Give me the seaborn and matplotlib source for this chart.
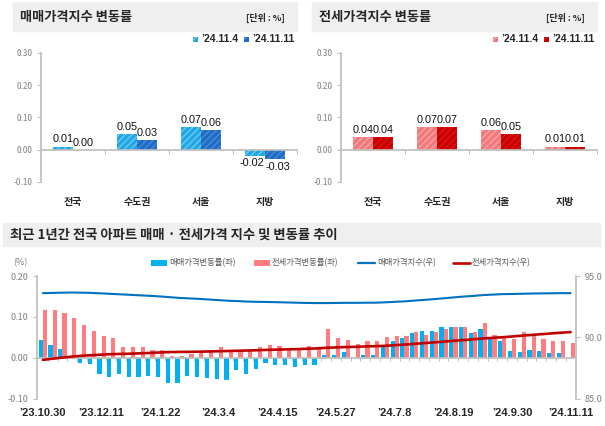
import matplotlib
matplotlib.use("Agg")
import matplotlib.pyplot as plt
import seaborn as sns
import pandas as pd
from matplotlib.patches import Rectangle
from matplotlib.lines import Line2D
from matplotlib.ticker import FormatStrFormatter

# --- data -------------------------------------------------------------
regions = ["전국", "수도권", "서울", "지방"]
periods = ["’24.11.4", "’24.11.11"]
sale_prev = [0.01, 0.05, 0.07, -0.02]
sale_last = [0.00, 0.03, 0.06, -0.03]
jeonse_prev = [0.04, 0.07, 0.06, 0.01]
jeonse_last = [0.04, 0.07, 0.05, 0.01]

week_labels = ["’23.10.30", "’23.12.11", "’24.1.22", "’24.3.4", "’24.4.15",
               "’24.5.27", "’24.7.8", "’24.8.19", "’24.9.30", "’24.11.11"]

# weekly change rates (%), 2023-10-30 .. 2024-11-11
sale_rate = [0.043, 0.030, 0.021, 0.005, -0.013, -0.015, -0.040, -0.047, -0.040, -0.047,
             -0.047, -0.044, -0.048, -0.063, -0.063, -0.045, -0.047, -0.050, -0.052, -0.055,
             -0.030, -0.041, -0.027, -0.013, -0.017, -0.019, -0.022, -0.019, -0.017, 0.007,
             0.006, 0.013, -0.001, 0.007, 0.007, 0.026, 0.042, 0.047, 0.060, 0.066,
             0.066, 0.076, 0.076, 0.076, 0.060, 0.069, 0.046, 0.040, 0.017, 0.015,
             0.020, 0.016, 0.011, 0.012, 0.000]
jeonse_rate = [0.116, 0.116, 0.110, 0.097, 0.080, 0.065, 0.052, 0.047, 0.025, 0.025,
               0.025, 0.018, 0.019, 0.003, 0.003, 0.010, 0.011, 0.018, 0.025, 0.016,
               0.020, 0.016, 0.027, 0.030, 0.029, 0.021, 0.023, 0.028, 0.024, 0.070,
               0.049, 0.043, 0.033, 0.040, 0.042, 0.050, 0.052, 0.054, 0.064, 0.055,
               0.064, 0.070, 0.075, 0.074, 0.064, 0.084, 0.056, 0.052, 0.045, 0.064,
               0.058, 0.046, 0.042, 0.040, 0.036]

# weekly index levels (right axis)
sale_index = [93.60, 93.62, 93.64, 93.65, 93.64, 93.62, 93.58, 93.54, 93.50, 93.46,
              93.42, 93.38, 93.33, 93.27, 93.21, 93.17, 93.13, 93.08, 93.03, 92.98,
              92.95, 92.91, 92.89, 92.88, 92.86, 92.84, 92.82, 92.80, 92.79, 92.79,
              92.80, 92.81, 92.81, 92.82, 92.82, 92.85, 92.89, 92.93, 92.99, 93.05,
              93.11, 93.18, 93.25, 93.32, 93.37, 93.44, 93.48, 93.52, 93.53, 93.55,
              93.57, 93.58, 93.59, 93.60, 93.60]
jeonse_index = [88.15, 88.25, 88.34, 88.42, 88.49, 88.54, 88.58, 88.62, 88.64, 88.66,
                88.69, 88.72, 88.76, 88.79, 88.80, 88.81, 88.82, 88.84, 88.86, 88.88,
                88.90, 88.92, 88.94, 88.97, 88.99, 89.01, 89.03, 89.06, 89.09, 89.14,
                89.17, 89.20, 89.22, 89.25, 89.27, 89.30, 89.35, 89.40, 89.46, 89.52,
                89.58, 89.64, 89.71, 89.77, 89.83, 89.90, 89.95, 90.00, 90.06, 90.13,
                90.19, 90.25, 90.31, 90.37, 90.42]

rate_names = ["매매가격변동률(좌)", "전세가격변동률(좌)"]
index_names = ["매매가격지수(우)", "전세가격지수(우)"]

# --- style ------------------------------------------------------------
sns.set_theme(style="white")
plt.rcParams["font.family"] = ["Noto Sans CJK KR", "DejaVu Sans"]
plt.rcParams["axes.unicode_minus"] = False
plt.rcParams["hatch.linewidth"] = 1.0

NUM_FONT = ["Liberation Sans Narrow", "Liberation Sans", "Noto Sans CJK KR"]
GRAY = "#BFBFBF"
TICK_TXT = "#7F7F7F"
TXT = "#262626"

W, H = 605, 426
fig = plt.figure(figsize=(W / 100, H / 100), dpi=100)


def fx(x):
    return x / W


def fy(y):
    return 1 - y / H


def title_box(x0, x1, y0, y1, text, unit=None, size=9.5):
    fig.add_artist(Rectangle((fx(x0), fy(y1)), fx(x1 - x0), (y1 - y0) / H,
                             transform=fig.transFigure, color="#EFEFEF", zorder=0))
    fig.text(fx(x0 + 7), fy((y0 + y1) / 2), text, ha="left", va="center",
             fontsize=size, fontweight="bold", color=TXT)
    if unit:
        fig.text(fx(x1 - 12), fy((y0 + y1) / 2 + 1), unit, ha="right", va="center",
                 fontsize=6.5, fontweight="bold", color=TXT)


def region_panel(rect, prev, last, colors, hatch_colors, leg_x):
    ax = fig.add_axes(rect)
    df = pd.DataFrame({
        "region": regions * 2,
        "period": [periods[0]] * len(regions) + [periods[1]] * len(regions),
        "value": prev + last,
    })
    sns.barplot(data=df, x="region", y="value", hue="period", hue_order=periods,
                palette=colors, saturation=1, width=0.63, legend=False, ax=ax)
    for k, (container, hc) in enumerate(zip(ax.containers, hatch_colors)):
        for bar in container:
            bar.set_hatch("/////")
            bar.set_edgecolor(hc)
            bar.set_linewidth(0)
        labels = ax.bar_label(container, fmt="%.2f", padding=1.5, fontsize=7.8,
                              family=NUM_FONT, color="#111111")
        # negative pairs sit close together: nudge them apart a little
        for lab, v in zip(labels, container.datavalues):
            if v < 0:
                dx, dy = lab.xyann
                lab.xyann = (dx + (-2 if k == 0 else 2), dy)
    ax.set_xlim(-0.5, 3.5)
    ax.set_ylim(-0.10, 0.30)
    ax.set_yticks([-0.10, 0.00, 0.10, 0.20, 0.30])
    ax.yaxis.set_major_formatter(FormatStrFormatter("%.2f"))
    ax.set_xlabel("")
    ax.set_ylabel("")
    for s in ["top", "right"]:
        ax.spines[s].set_visible(False)
    ax.spines["left"].set_color(GRAY)
    ax.spines["bottom"].set_color(GRAY)
    ax.spines["bottom"].set_position(("data", 0))
    ax.set_xticks([0.5, 1.5, 2.5, 3.5], minor=True)
    ax.tick_params(axis="x", which="major", length=0, pad=34, labelsize=7.2,
                   labelcolor=TXT)
    for lab in ax.get_xticklabels():
        lab.set_fontweight("bold")
    ax.tick_params(axis="x", which="minor", bottom=True, length=3, color=GRAY, width=0.8)
    ax.tick_params(axis="y", left=True, length=3, color=GRAY, width=0.8,
                   labelsize=6, labelcolor=TICK_TXT, pad=3)

    # legend squares
    for x, c, hc, lab in zip(leg_x, colors, hatch_colors, periods):
        fig.add_artist(Rectangle((fx(x), fy(42)), 5 / W, 5 / H, transform=fig.transFigure,
                                 facecolor=c, edgecolor=hc, hatch="////", linewidth=0))
        fig.text(fx(x + 8), fy(39.5), lab, ha="left", va="center", fontsize=7.5,
                 fontweight="bold", family=NUM_FONT, color=TXT)
    return ax


# --- top panels -------------------------------------------------------
title_box(13, 297, 2, 31, "매매가격지수 변동률", "[단위 : %]")
title_box(312, 597, 2, 31, "전세가격지수 변동률", "[단위 : %]")

panel_h = (182 - 53) / H
region_panel([fx(41), fy(182), (297 - 41) / W, panel_h], sale_prev, sale_last,
             ["#22A7E6", "#1F6CC4"], ["#6CC8F2", "#4A8AD6"], [193, 244])
region_panel([fx(341), fy(182), (597 - 341) / W, panel_h], jeonse_prev, jeonse_last,
             ["#F2787B", "#CC0000"], ["#F8A5A7", "#D21A1A"], [493, 544])

# --- bottom panel -----------------------------------------------------
title_box(3, 600, 223, 246, "최근 1년간 전국 아파트 매매 · 전세가격 지수 및 변동률 추이",
          size=9.6)

n_weeks = len(sale_rate)
weeks = list(range(n_weeks))
rate_df = pd.DataFrame({
    "week": weeks * 2,
    "series": [rate_names[0]] * n_weeks + [rate_names[1]] * n_weeks,
    "rate": sale_rate + jeonse_rate,
})

ax = fig.add_axes([fx(37), fy(398.5), (576 - 37) / W, (398.5 - 276) / H])
sns.barplot(data=rate_df, x="week", y="rate", hue="series", hue_order=rate_names,
            palette=["#00B0F0", "#FF7C80"], saturation=1, width=0.86,
            linewidth=0, legend=False, ax=ax)

ax2 = ax.twinx()
sns.lineplot(x=weeks, y=sale_index, ax=ax2, color="#0070C0", linewidth=1.5)
sns.lineplot(x=weeks, y=jeonse_index, ax=ax2, color="#C00000", linewidth=1.9)

ax.set_xlim(-0.6, n_weeks - 0.45)
ax.set_ylim(-0.10, 0.20)
ax.set_yticks([-0.10, 0.00, 0.10, 0.20])
ax.yaxis.set_major_formatter(FormatStrFormatter("%.2f"))
ax.set_xlabel("")
ax.set_ylabel("")
ax2.set_ylim(85, 95)
ax2.set_yticks([85, 90, 95])
ax2.yaxis.set_major_formatter(FormatStrFormatter("%.1f"))
ax2.set_ylabel("")

for s in ["top", "right"]:
    ax.spines[s].set_visible(False)
for s in ["top", "left", "bottom"]:
    ax2.spines[s].set_visible(False)
ax.spines["left"].set_color(GRAY)
ax2.spines["right"].set_color(GRAY)
ax.spines["bottom"].set_color(GRAY)
ax.spines["bottom"].set_position(("data", 0))

ax.set_xticks(range(0, n_weeks, 6))
ax.set_xticklabels(week_labels)
ax.set_xticks([i + 0.5 for i in range(n_weeks - 1)], minor=True)
ax.tick_params(axis="x", which="major", length=0, pad=36, labelsize=8,
               labelcolor=TXT)
for lab in ax.get_xticklabels():
    lab.set_fontweight("bold")
    lab.set_family(NUM_FONT)
ax.tick_params(axis="x", which="minor", bottom=True, length=2.5, color=GRAY, width=0.7)
ax.tick_params(axis="y", left=True, length=3, color=GRAY, width=0.8,
               labelsize=6.5, labelcolor=TICK_TXT, pad=3)
ax2.tick_params(axis="y", right=True, length=3, color=GRAY, width=0.8,
                labelsize=6.5, labelcolor=TICK_TXT, pad=3)

fig.text(fx(20), fy(263), "(%)", ha="center", va="center", fontsize=6.5, color=TICK_TXT)

# legend row
leg_y = 263
for x, c, lab in zip([151, 254], ["#00B0F0", "#FF7C80"], rate_names):
    fig.add_artist(Rectangle((fx(x), fy(leg_y + 3)), 16 / W, 6 / H,
                             transform=fig.transFigure, color=c, linewidth=0))
    fig.text(fx(x + 18), fy(leg_y), lab, ha="left", va="center", fontsize=6,
             color="#595959")
for x, c, lw, lab in zip([358, 453], ["#0070C0", "#C00000"], [1.6, 1.9], index_names):
    fig.add_artist(Line2D([fx(x), fx(x + 17)], [fy(leg_y), fy(leg_y)],
                          transform=fig.transFigure, color=c, linewidth=lw))
    fig.text(fx(x + 19), fy(leg_y), lab, ha="left", va="center", fontsize=6,
             color="#595959")

fig.savefig("out.png", dpi=100)
